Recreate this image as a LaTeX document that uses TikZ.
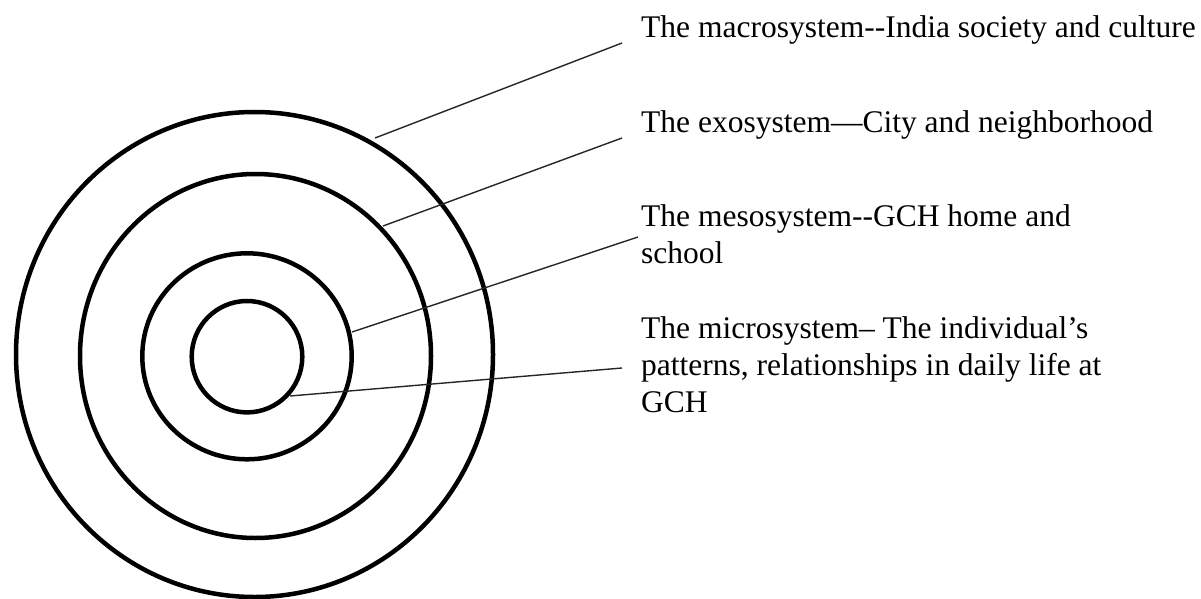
\documentclass[tikz,border=0pt]{standalone}
\usepackage{fontspec}
\setmainfont{Liberation Serif}
\begin{document}
\begin{tikzpicture}[x={(1pt,0)},y={(0,-1pt)},
  ring/.style={line width=4.5pt,draw=black},
  leader/.style={line width=1.4pt,draw=black!85},
  lbl/.style={inner sep=0pt,anchor=base west,align=left,font=\fontsize{31.5}{36.7}\selectfont}]
\useasboundingbox (0,0) rectangle (1201,599);
% rings
\draw[ring] (254.5,354.5) ellipse [x radius=238.5pt, y radius=242.5pt];
\draw[ring] (255.5,356) ellipse [x radius=175.5pt, y radius=182pt];
\draw[ring] (247,356.3) ellipse [x radius=104.7pt, y radius=103pt];
\draw[ring] (247,356.7) ellipse [x radius=55.3pt, y radius=55.7pt];
% labels (base anchor of a multi-line node is its last line)
\node[lbl] (macro) at (641,38) {The macrosystem-\kern0pt-India society and culture};
\node[lbl] (exo) at (641,132) {The exosystem—City and neighborhood};
\node[lbl] (meso) at (641,263) {The mesosystem-\kern0pt-GCH home and\\school};
\node[lbl] (micro) at (641,412) {The microsystem– The individual’s\\patterns, relationships in daily life at\\GCH};
% leader ends
\coordinate (c1) at (375,138);
\coordinate (c2) at (383,226);
\coordinate (c3) at (352,332);
\coordinate (c4) at (290,396);
\coordinate (t1) at (622,43);
\coordinate (t2) at (622,138);
\coordinate (t3) at (638,237);
\coordinate (t4) at (622,368);
\draw[leader] (c1) -- (t1);
\draw[leader] (c2) -- (t2);
\draw[leader] (c3) -- (t3);
\draw[leader] (c4) -- (t4);
\end{tikzpicture}
\end{document}
